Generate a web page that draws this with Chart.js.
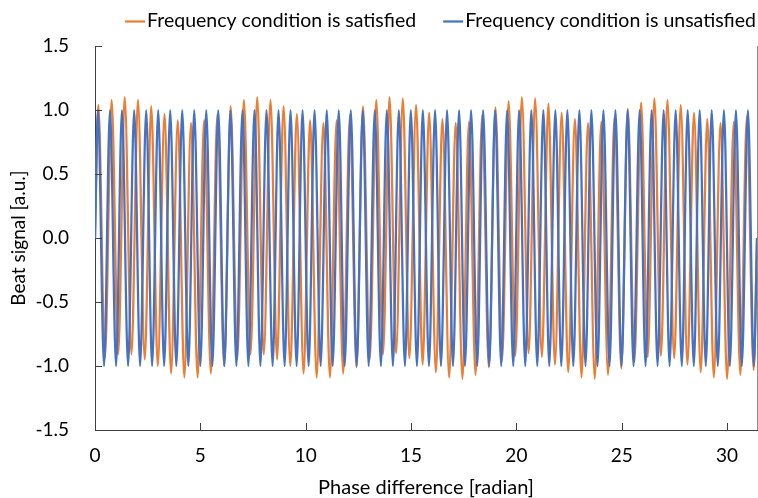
<!DOCTYPE html>
<html>
<head>
<meta charset="utf-8">
<script src="https://cdn.jsdelivr.net/npm/chart.js@4.4.1/dist/chart.umd.min.js"></script>
<style>
  html, body { margin: 0; padding: 0; background: #fff; }
</style>
</head>
<body>
<canvas id="beat" width="758" height="498"></canvas>
<script>
// peaks / troughs, x in radian
const satisfiedX = [0,
  0.16, 0.47, 0.79, 1.10, 1.41, 1.73, 2.04, 2.36, 2.67, 2.98, 3.30, 3.61, 3.93, 4.24, 4.56, 4.87, 5.18, 5.50, 5.81, 6.13,
  6.44, 6.75, 7.07, 7.38, 7.70, 8.01, 8.33, 8.64, 8.95, 9.27, 9.58, 9.90, 10.21, 10.52, 10.84, 11.15, 11.47, 11.78, 12.10, 12.41,
  12.72, 13.04, 13.35, 13.67, 13.98, 14.29, 14.61, 14.92, 15.24, 15.55, 15.86, 16.18, 16.49, 16.81, 17.12, 17.44, 17.75, 18.06, 18.38, 18.69,
  19.01, 19.32, 19.63, 19.95, 20.26, 20.58, 20.89, 21.21, 21.52, 21.83, 22.15, 22.46, 22.78, 23.09, 23.40, 23.72, 24.03, 24.35, 24.66, 24.98,
  25.29, 25.60, 25.92, 26.23, 26.55, 26.86, 27.17, 27.49, 27.80, 28.12, 28.43, 28.75, 29.06, 29.37, 29.69, 30.00, 30.32, 30.63, 30.94, 31.26,
  31.42];
const satisfiedY = [0.00,
  1.04, -0.94, 1.08, -0.91, 1.10, -0.91, 1.08, -0.95, 1.03, -1.00, 0.97, -1.06, 0.92, -1.09, 0.90, -1.09, 0.92, -1.06, 0.97, -1.00,
  1.03, -0.95, 1.08, -0.91, 1.10, -0.91, 1.08, -0.95, 1.03, -1.00, 0.97, -1.06, 0.92, -1.09, 0.90, -1.09, 0.92, -1.06, 0.96, -1.01,
  1.03, -0.95, 1.08, -0.91, 1.10, -0.90, 1.09, -0.94, 1.04, -0.99, 0.98, -1.05, 0.93, -1.09, 0.90, -1.10, 0.91, -1.07, 0.96, -1.01,
  1.02, -0.96, 1.07, -0.92, 1.10, -0.90, 1.09, -0.93, 1.05, -0.99, 0.98, -1.05, 0.93, -1.09, 0.90, -1.10, 0.91, -1.07, 0.95, -1.02,
  1.01, -0.97, 1.06, -0.93, 1.09, -0.92, 1.08, -0.94, 1.04, -0.99, 0.98, -1.05, 0.93, -1.09, 0.90, -1.10, 0.91, -1.07, 0.95, -1.03,
  0.00];

const unsatisfiedX = [0,
  0.14, 0.43, 0.71, 1.00, 1.28, 1.57, 1.86, 2.14, 2.43, 2.71, 3.00, 3.28, 3.57, 3.86, 4.14, 4.43, 4.71, 5.00, 5.28, 5.57,
  5.85, 6.14, 6.43, 6.71, 7.00, 7.28, 7.57, 7.85, 8.14, 8.43, 8.71, 9.00, 9.28, 9.57, 9.85, 10.14, 10.42, 10.71, 11.00, 11.28,
  11.57, 11.85, 12.14, 12.42, 12.71, 12.99, 13.28, 13.57, 13.85, 14.14, 14.42, 14.71, 14.99, 15.28, 15.56, 15.85, 16.14, 16.42, 16.71, 16.99,
  17.28, 17.56, 17.85, 18.14, 18.42, 18.71, 18.99, 19.28, 19.56, 19.85, 20.13, 20.42, 20.71, 20.99, 21.28, 21.56, 21.85, 22.13, 22.42, 22.70,
  22.99, 23.28, 23.56, 23.85, 24.13, 24.42, 24.70, 24.99, 25.28, 25.56, 25.85, 26.13, 26.42, 26.70, 26.99, 27.27, 27.56, 27.85, 28.13, 28.42,
  28.70, 28.99, 29.27, 29.56, 29.85, 30.13, 30.42, 30.70, 30.99, 31.27,
  31.42];
const unsatisfiedY = [0,
  1, -1, 1, -1, 1, -1, 1, -1, 1, -1, 1, -1, 1, -1, 1, -1, 1, -1, 1, -1,
  1, -1, 1, -1, 1, -1, 1, -1, 1, -1, 1, -1, 1, -1, 1, -1, 1, -1, 1, -1,
  1, -1, 1, -1, 1, -1, 1, -1, 1, -1, 1, -1, 1, -1, 1, -1, 1, -1, 1, -1,
  1, -1, 1, -1, 1, -1, 1, -1, 1, -1, 1, -1, 1, -1, 1, -1, 1, -1, 1, -1,
  1, -1, 1, -1, 1, -1, 1, -1, 1, -1, 1, -1, 1, -1, 1, -1, 1, -1, 1, -1,
  1, -1, 1, -1, 1, -1, 1, -1, 1, -1,
  0];

const seriesNames = ['Frequency condition is satisfied', 'Frequency condition is unsatisfied'];
const xTicks = [0, 5, 10, 15, 20, 25, 30];
const yTicks = [-1.5, -1.0, -0.5, 0.0, 0.5, 1.0, 1.5];

const FONT = 'Lato, "Open Sans", sans-serif';
const AXIS = '#404040';

const toPoints = (xs, ys) => xs.map((x, i) => ({x: x, y: ys[i]}));

// excel style tick marks pointing into the plot, plus the thin right edge
const insideTicks = {
    id: 'insideTicks',
    afterDatasetsDraw(chart) {
        const {ctx, chartArea, scales} = chart;
        ctx.save();
        ctx.strokeStyle = AXIS;
        ctx.lineWidth = 1;
        ctx.beginPath();
        xTicks.forEach(v => {
            if (v === 0) return;
            const px = Math.round(scales.x.getPixelForValue(v)) + 0.5;
            ctx.moveTo(px, chartArea.bottom);
            ctx.lineTo(px, chartArea.bottom - 7);
        });
        yTicks.forEach(v => {
            const py = Math.round(scales.y.getPixelForValue(v)) + 0.5;
            ctx.moveTo(chartArea.left, py);
            ctx.lineTo(chartArea.left + 7, py);
        });
        ctx.stroke();
        ctx.strokeStyle = '#8c8c8c';
        ctx.beginPath();
        ctx.moveTo(chartArea.right + 0.5, chartArea.top);
        ctx.lineTo(chartArea.right + 0.5, chartArea.bottom);
        ctx.stroke();
        ctx.restore();
    }
};

// legend drawn by hand: short line, small gap, name; right aligned like excel
const lineLegend = {
    id: 'lineLegend',
    afterDraw(chart) {
        const ctx = chart.ctx;
        const sets = chart.data.datasets;
        const y = 21;
        let x = chart.width - 2;
        ctx.save();
        ctx.font = '19.5px ' + FONT;
        ctx.textBaseline = 'middle';
        ctx.fillStyle = '#000';
        for (let i = sets.length - 1; i >= 0; i--) {
            const w = ctx.measureText(sets[i].label).width;
            x -= w;
            ctx.fillText(sets[i].label, x, y);
            x -= 2;
            ctx.strokeStyle = sets[i].borderColor;
            ctx.lineWidth = 2.25;
            ctx.beginPath();
            ctx.moveTo(x - 20, y + 0.5);
            ctx.lineTo(x, y + 0.5);
            ctx.stroke();
            x -= 20 + 27;
        }
        ctx.restore();
    }
};

const beat = document.getElementById('beat').getContext('2d');

new Chart(beat, {
    type: 'line',
    data: {
        datasets: [{
            label: seriesNames[0],
            data: toPoints(satisfiedX, satisfiedY),
            borderColor: '#ED7D31',
            backgroundColor: '#ED7D31',
            borderWidth: 2.25,
            pointRadius: 0,
            cubicInterpolationMode: 'monotone',
            order: 1
        }, {
            label: seriesNames[1],
            data: toPoints(unsatisfiedX, unsatisfiedY),
            borderColor: '#4472C4',
            backgroundColor: '#4472C4',
            borderWidth: 2.25,
            pointRadius: 0,
            cubicInterpolationMode: 'monotone',
            order: 0
        }]
    },
    options: {
        responsive: false,
        animation: false,
        devicePixelRatio: 1,
        layout: { padding: { left: 0, right: 1, top: 46, bottom: 0 } },
        scales: {
            x: {
                type: 'linear',
                min: 0,
                max: 31.42,
                afterBuildTicks: s => { s.ticks = xTicks.map(v => ({value: v})); },
                afterFit: s => { s.height = 68; },
                grid: { drawOnChartArea: false, drawTicks: false },
                border: { display: true, color: AXIS, width: 1 },
                ticks: { font: { family: FONT, size: 19 }, color: '#000', padding: 14, maxRotation: 0, autoSkip: false, includeBounds: false },
                title: { display: true, text: 'Phase difference [radian]', font: { family: FONT, size: 20, lineHeight: 1 }, color: '#000', padding: { top: 0, bottom: 0 } }
            },
            y: {
                min: -1.5,
                max: 1.5,
                afterBuildTicks: s => { s.ticks = yTicks.map(v => ({value: v})); },
                afterFit: s => { s.width = 95; },
                grid: { drawOnChartArea: false, drawTicks: false },
                border: { display: true, color: AXIS, width: 1 },
                ticks: { font: { family: FONT, size: 19 }, color: '#000', padding: 26, callback: v => v.toFixed(1) },
                title: { display: true, text: 'Beat signal [a.u.]', font: { family: FONT, size: 19, lineHeight: 1 }, color: '#000', padding: { top: 9, bottom: 0 } }
            }
        },
        plugins: {
            legend: { display: false },
            tooltip: { enabled: false }
        }
    },
    plugins: [insideTicks, lineLegend]
});
</script>
</body>
</html>
